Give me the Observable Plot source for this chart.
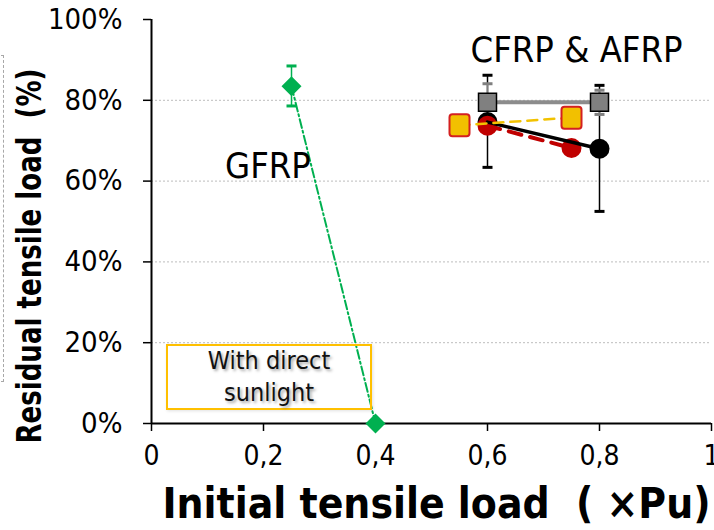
<!DOCTYPE html>
<html><head><meta charset="utf-8">
<script src="https://cdn.jsdelivr.net/npm/d3@7"></script>
<script src="https://cdn.jsdelivr.net/npm/@observablehq/plot@0.6"></script>
<style>
html,body{margin:0;padding:0;background:#fff;}
#wrap{position:relative;width:714px;height:530px;overflow:hidden;font-family:"DejaVu Sans Condensed","DejaVu Sans",sans-serif;}
#legend{position:absolute;left:166px;top:344px;width:202px;height:62px;border:2px solid #FFC000;
  display:flex;align-items:center;justify-content:center;text-align:center;font-size:25px;line-height:32px;color:#111;
  text-shadow:2px 2px 3px rgba(0,0,0,0.35);box-shadow:1px 1px 3px rgba(0,0,0,0.12);background:transparent;}
#deco{position:absolute;left:-20px;top:55px;width:22px;height:325px;border:1.5px dashed #a8a8a8;}
</style></head>
<body><div id="wrap"><div id="deco"></div></div>
<script>
// ---- data ----
const xTicks = [0, 0.2, 0.4, 0.6, 0.8, 1];
const yTicks = [0, 20, 40, 60, 80, 100];
const gridValues = [20, 40, 60, 80];

const gfrpX = [0.25, 0.4];
const gfrpY = [83.5, 0];
const gfrpErrLo = [78.6, null];
const gfrpErrHi = [88.5, null];

const grayX = [0.6, 0.8];
const grayY = [79.5, 79.5];
const grayErrLo = [75.0, 76.5];
const grayErrHi = [84.1, 82.5];

const blackX = [0.6, 0.8];
const blackY = [74.6, 68.0];
const blackErrLo = [63.4, 52.5];
const blackErrHi = [86.2, 83.7];

const redX = [0.6, 0.75];
const redY = [73.7, 68.2];

const yellowX = [0.55, 0.75];
const yellowY = [73.8, 75.7];

const annotations = [
  {text: "GFRP", x: 0.208, y: 63.7},
  {text: "CFRP & AFRP", x: 0.759, y: 92.4}
];
const xTitle = "Initial tensile load\u00a0\u00a0(\u00a0×Pu)";
const yTitle = "Residual tensile load\u00a0\u00a0(%)";
const legendLines = ["With direct", "sunlight"];

// ---- build ----
const rows = (xs, ys, lo, hi) => xs.map((x, i) => ({x, y: ys[i], lo: lo ? lo[i] : null, hi: hi ? hi[i] : null}));
const gfrp = rows(gfrpX, gfrpY, gfrpErrLo, gfrpErrHi);
const gray = rows(grayX, grayY, grayErrLo, grayErrHi);
const black = rows(blackX, blackY, blackErrLo, blackErrHi);
const red = rows(redX, redY);
const yellow = rows(yellowX, yellowY);

const capSym = {draw(ctx) { ctx.rect(-5, -1.5, 10, 3); }};
const squareSym = (h) => ({draw(ctx) { ctx.rect(-h, -h, 2 * h, 2 * h); }});
const roundSym = (w, h, r) => ({draw(ctx) {
  ctx.moveTo(-w + r, -h);
  ctx.arcTo(w, -h, w, h, r);
  ctx.arcTo(w, h, -w, h, r);
  ctx.arcTo(-w, h, -w, -h, r);
  ctx.arcTo(-w, -h, w, -h, r);
  ctx.closePath();
}});
const diamondSym = {draw(ctx) { ctx.moveTo(0, -10); ctx.lineTo(10, 0); ctx.lineTo(0, 10); ctx.lineTo(-10, 0); ctx.closePath(); }};

const errs = (data, color) => {
  const d = data.filter(r => r.lo != null);
  return [
    Plot.ruleX(d, {x: "x", y1: "lo", y2: "hi", stroke: color, strokeWidth: 1.5}),
    Plot.dot(d, {x: "x", y: "hi", symbol: capSym, fill: color, stroke: "none"}),
    Plot.dot(d, {x: "x", y: "lo", symbol: capSym, fill: color, stroke: "none"})
  ];
};

const fmtX = d => String(d).replace(".", ",");

const chart = Plot.plot({
  width: 714, height: 530,
  marginLeft: 151, marginRight: 3, marginTop: 19, marginBottom: 107,
  style: {fontFamily: '"DejaVu Sans Condensed","DejaVu Sans",sans-serif', background: "transparent", color: "#000", overflow: "visible"},
  x: {domain: [0, 1]},
  y: {domain: [0, 100]},
  marks: [
    Plot.gridY(gridValues, {stroke: "#bdbdbd", strokeOpacity: 1, strokeWidth: 1, strokeDasharray: "2,2"}),
    Plot.axisY({ticks: yTicks, tickFormat: d => d + "%", tickSize: 8, tickPadding: 21, fontSize: 29, label: null, strokeWidth: 1.5}),
    Plot.axisX({ticks: xTicks, tickFormat: fmtX, tickSize: 8, tickPadding: 14, fontSize: 28, label: null, strokeWidth: 1.5}),
    Plot.ruleX([0], {stroke: "#000", strokeWidth: 2}),
    Plot.ruleY([0], {stroke: "#000", strokeWidth: 2}),
    // GFRP
    Plot.line(gfrp, {x: "x", y: "y", stroke: "#00B050", strokeWidth: 2, strokeDasharray: "9,3,2,3"}),
    ...errs(gfrp, "#00B050"),
    Plot.dot(gfrp, {x: "x", y: "y", symbol: diamondSym, fill: "#00B050", stroke: "none"}),
    // black / gray error bars
    ...errs(black, "#000"),
    ...errs(gray, "#808080"),
    Plot.dot(black, {x: "x", y: "y", r: 10, fill: "#000", stroke: "none"}),
    // red
    Plot.line(red, {x: "x", y: "y", stroke: "#C00000", strokeWidth: 4, strokeDasharray: "13,9"}),
    Plot.dot(red, {x: "x", y: "y", r: 10, fill: "#C00000", stroke: "none"}),
    // black line
    Plot.line(black, {x: "x", y: "y", stroke: "#000", strokeWidth: 3.5}),
    // gray
    Plot.line(gray, {x: "x", y: "y", stroke: "#8c8c8c", strokeWidth: 4}),
    Plot.dot(gray, {x: "x", y: "y", symbol: squareSym(9), fill: "#808080", stroke: "#000", strokeWidth: 1.5}),
    // yellow
    Plot.line(yellow, {x: "x", y: "y", stroke: "#F2C200", strokeWidth: 2.5, strokeDasharray: "10,7"}),
    Plot.dot(yellow, {x: "x", y: "y", symbol: roundSym(10, 11, 3), fill: "#F2C000", stroke: "#D42020", strokeWidth: 2}),
    // annotations
    Plot.text(annotations, {x: "x", y: "y", text: "text", fontSize: 36, fill: "#000"}),
    Plot.text([xTitle], {frameAnchor: "bottom", textAnchor: "middle", dx: 5, dy: 94, fontSize: 42, fontWeight: "bold", fill: "#000"}),
    Plot.text([yTitle], {frameAnchor: "left", textAnchor: "middle", lineAnchor: "middle", dx: -121, dy: 34.5, rotate: -90, fontSize: 33, fontWeight: "bold", fill: "#000"})
  ]
});
const wrap = document.getElementById("wrap");
wrap.insertBefore(chart, wrap.firstChild);
d3.select(chart).selectAll("text").each(function() {
  const t = this.textContent;
  if (t === xTitle) d3.select(this).attr("textLength", 548).attr("lengthAdjust", "spacingAndGlyphs");
  if (t === yTitle) d3.select(this).attr("textLength", 375).attr("lengthAdjust", "spacingAndGlyphs");
});
const lg = document.createElement("div");
lg.id = "legend";
lg.innerHTML = legendLines.join("<br>");
wrap.appendChild(lg);
</script>
</body></html>
